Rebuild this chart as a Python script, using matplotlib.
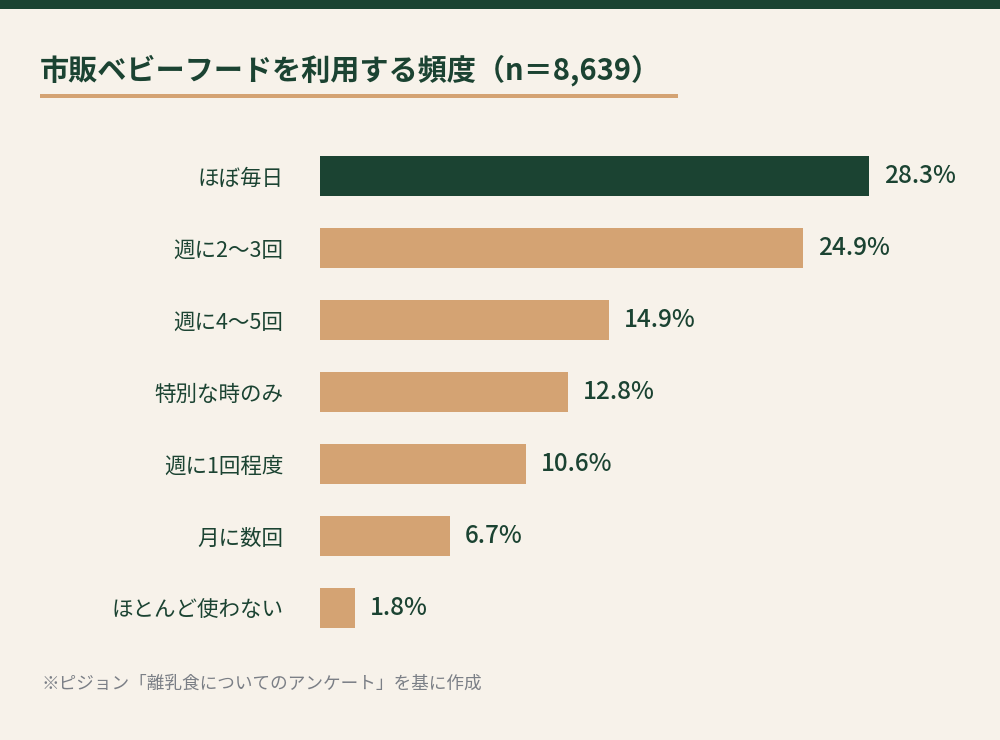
import matplotlib
matplotlib.use("Agg")
import matplotlib.pyplot as plt
from matplotlib.patches import Rectangle

plt.rcParams['font.family'] = ['Noto Sans CJK JP', 'DejaVu Sans']

categories = ["ほぼ毎日", "週に2〜3回", "週に4〜5回", "特別な時のみ", "週に1回程度", "月に数回", "ほとんど使わない"]
values = [28.3, 24.9, 14.9, 12.8, 10.6, 6.7, 1.8]
value_labels = ["28.3%", "24.9%", "14.9%", "12.8%", "10.6%", "6.7%", "1.8%"]
title = "市販ベビーフードを利用する頻度（n＝8,639）"
note = "※ピジョン「離乳食についてのアンケート」を基に作成"

BG = "#f7f2ea"
DARK = "#1b4332"
TAN = "#d4a373"
GREY = "#7b7f86"

fig = plt.figure(figsize=(10, 7.4), dpi=100, facecolor=BG)
W, H = 1000, 740

# top band
fig.patches.append(Rectangle((0, 1 - 9 / H), 1, 9 / H, transform=fig.transFigure,
                             facecolor=DARK, edgecolor='none'))
# title
fig.text(40 / W, 1 - 70 / H, title, fontsize=21, fontweight='bold', color=DARK,
         ha='left', va='center')
# underline
fig.patches.append(Rectangle((40 / W, 1 - 98 / H), 638 / W, 4 / H, transform=fig.transFigure,
                             facecolor=TAN, edgecolor='none'))

ax = fig.add_axes([320 / W, 1 - 644 / H, 680 / W, 504 / H])
ax.set_facecolor(BG)
ypos = list(range(len(categories)))
colors = [DARK] + [TAN] * (len(categories) - 1)
ax.barh(ypos, values, height=40 / 72, color=colors, edgecolor='none')
ax.set_ylim(len(categories) - 0.5, -0.5)
ax.set_xlim(0, 680 / 19.4)
for s in ax.spines.values():
    s.set_visible(False)
ax.set_xticks([])
ax.set_yticks(ypos)
ax.set_yticklabels(categories, fontsize=15.5, color=DARK)
ax.tick_params(axis='y', length=0, pad=26.5)
for y, v, lab in zip(ypos, values, value_labels):
    ax.annotate(lab, (v, y), xytext=(15, 0), textcoords='offset pixels',
                ha='left', va='center', fontsize=17.5, fontweight='medium', color=DARK)

fig.text(42 / W, 1 - 684 / H, note, fontsize=12.7, color=GREY, ha='left', va='center')

fig.savefig("out.png", dpi=100, facecolor=BG)
